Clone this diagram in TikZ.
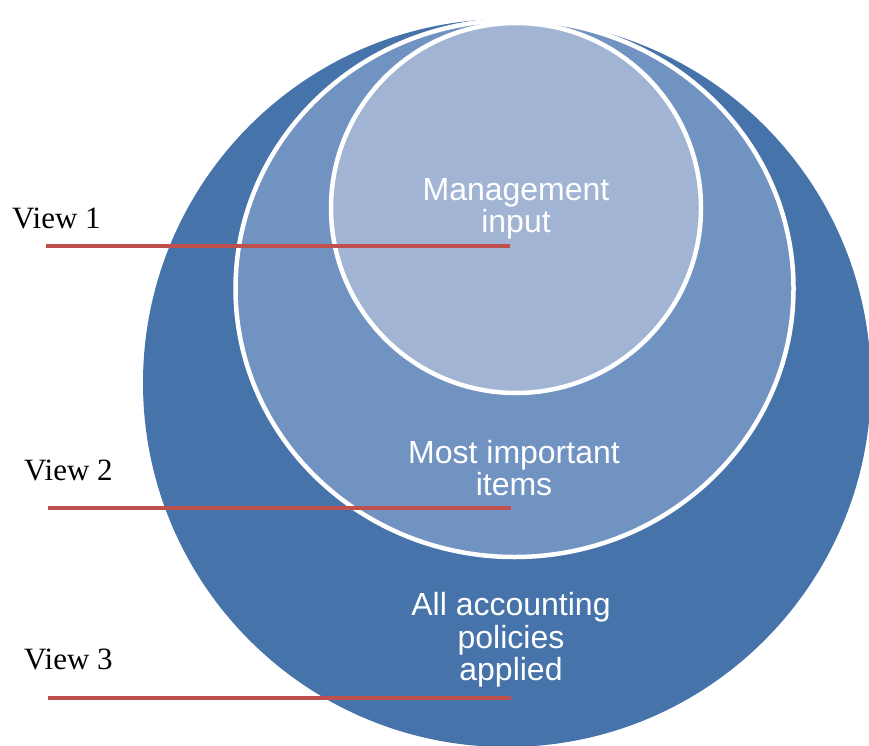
\documentclass[tikz,border=0pt]{standalone}
\usepackage{fontspec}
\setmainfont{Liberation Serif}
\setsansfont{Liberation Sans}
\definecolor{outerblue}{RGB}{70,116,170}
\definecolor{midblue}{RGB}{113,147,193}
\definecolor{innerblue}{RGB}{162,180,212}
\definecolor{viewred}{RGB}{192,80,77}
\begin{document}
\begin{tikzpicture}[x=1pt,y=-1pt,
  ring/.style={draw=white,line width=4.5pt},
  intext/.style={text=white,font=\sffamily\fontsize{32}{32.5}\selectfont,align=center},
  viewlabel/.style={font=\fontsize{31}{32}\selectfont,anchor=base west,inner sep=0pt},
  viewline/.style={draw=viewred,line width=4pt}]
\useasboundingbox (0,0) rectangle (869,746);
\begin{scope}
\clip (0,0) rectangle (869,746);
\fill[outerblue] (507,383) circle (364);
\filldraw[fill=midblue,ring] (514.5,288.5) ellipse [x radius=279,y radius=268.5];
\filldraw[fill=innerblue,ring] (516,208) circle (185);
\end{scope}
\node[intext] (mgmt) at (516,209) {Management\\input};
\node[intext] (most) at (514,468) {Most important\\items};
\node[intext] (all) at (511,640) {All accounting\\policies\\applied};
\node[viewlabel] (v1) at (12,228) {View 1};
\node[viewlabel] (v2) at (24,480) {View 2};
\node[viewlabel] (v3) at (24,669) {View 3};
\coordinate (a1) at (46,246); \coordinate (b1) at (510,246);
\coordinate (a2) at (48,508); \coordinate (b2) at (511,508);
\coordinate (a3) at (48,698); \coordinate (b3) at (511,698);
\draw[viewline] (a1) -- (b1);
\draw[viewline] (a2) -- (b2);
\draw[viewline] (a3) -- (b3);
\end{tikzpicture}
\end{document}
